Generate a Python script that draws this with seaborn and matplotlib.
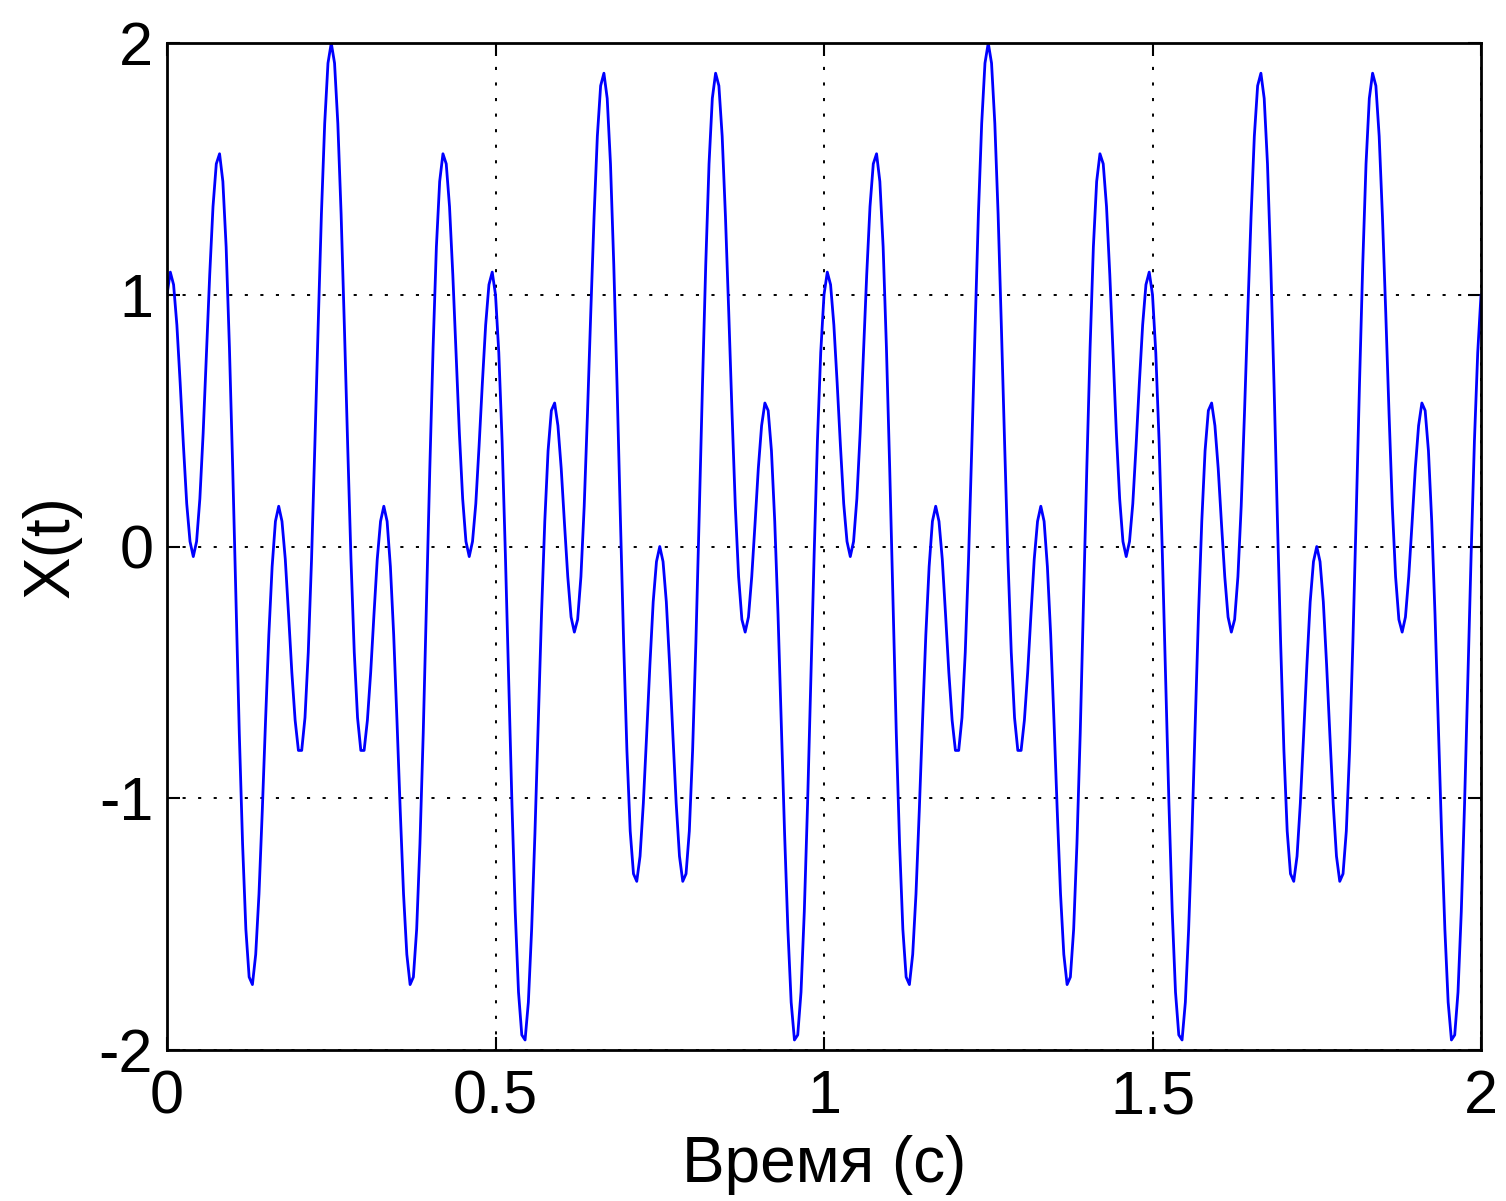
import numpy as np
import seaborn as sns
import matplotlib.pyplot as plt

# signal X(t), every 5 ms from 0 to 2 s
t_start, t_stop = 0.0, 2.0
x_t = [
    1.00, 1.09, 1.04, 0.88, 0.65, 0.40, 0.17, 0.02, -0.04, 0.02,
    0.19, 0.45, 0.76, 1.08, 1.35, 1.52, 1.56, 1.45, 1.19, 0.79,
    0.31, -0.22, -0.74, -1.18, -1.52, -1.71, -1.74, -1.62, -1.38, -1.05,
    -0.69, -0.35, -0.08, 0.10, 0.16, 0.10, -0.05, -0.27, -0.50, -0.69,
    -0.81, -0.81, -0.68, -0.42, -0.05, 0.40, 0.87, 1.32, 1.68, 1.92,
    2.00, 1.92, 1.68, 1.32, 0.87, 0.40, -0.05, -0.42, -0.68, -0.81,
    -0.81, -0.69, -0.50, -0.27, -0.05, 0.10, 0.16, 0.10, -0.08, -0.35,
    -0.69, -1.05, -1.38, -1.62, -1.74, -1.71, -1.52, -1.18, -0.74, -0.22,
    0.31, 0.79, 1.19, 1.45, 1.56, 1.52, 1.35, 1.08, 0.76, 0.45,
    0.19, 0.02, -0.04, 0.02, 0.17, 0.40, 0.65, 0.88, 1.04, 1.09,
    1.00, 0.77, 0.42, -0.03, -0.53, -1.02, -1.45, -1.77, -1.94, -1.96,
    -1.81, -1.52, -1.14, -0.70, -0.27, 0.10, 0.38, 0.54, 0.57, 0.48,
    0.31, 0.09, -0.12, -0.28, -0.34, -0.29, -0.12, 0.16, 0.53, 0.93,
    1.31, 1.63, 1.83, 1.88, 1.78, 1.52, 1.12, 0.64, 0.12, -0.38,
    -0.81, -1.13, -1.30, -1.33, -1.23, -1.02, -0.75, -0.47, -0.22, -0.06,
    0.00, -0.06, -0.22, -0.47, -0.75, -1.02, -1.23, -1.33, -1.30, -1.13,
    -0.81, -0.38, 0.12, 0.64, 1.12, 1.52, 1.78, 1.88, 1.83, 1.63,
    1.31, 0.93, 0.53, 0.16, -0.12, -0.29, -0.34, -0.28, -0.12, 0.09,
    0.31, 0.48, 0.57, 0.54, 0.38, 0.10, -0.27, -0.70, -1.14, -1.52,
    -1.81, -1.96, -1.94, -1.77, -1.45, -1.02, -0.53, -0.03, 0.42, 0.77,
    # second second
    1.00, 1.09, 1.04, 0.88, 0.65, 0.40, 0.17, 0.02, -0.04, 0.02,
    0.19, 0.45, 0.76, 1.08, 1.35, 1.52, 1.56, 1.45, 1.19, 0.79,
    0.31, -0.22, -0.74, -1.18, -1.52, -1.71, -1.74, -1.62, -1.38, -1.05,
    -0.69, -0.35, -0.08, 0.10, 0.16, 0.10, -0.05, -0.27, -0.50, -0.69,
    -0.81, -0.81, -0.68, -0.42, -0.05, 0.40, 0.87, 1.32, 1.68, 1.92,
    2.00, 1.92, 1.68, 1.32, 0.87, 0.40, -0.05, -0.42, -0.68, -0.81,
    -0.81, -0.69, -0.50, -0.27, -0.05, 0.10, 0.16, 0.10, -0.08, -0.35,
    -0.69, -1.05, -1.38, -1.62, -1.74, -1.71, -1.52, -1.18, -0.74, -0.22,
    0.31, 0.79, 1.19, 1.45, 1.56, 1.52, 1.35, 1.08, 0.76, 0.45,
    0.19, 0.02, -0.04, 0.02, 0.17, 0.40, 0.65, 0.88, 1.04, 1.09,
    1.00, 0.77, 0.42, -0.03, -0.53, -1.02, -1.45, -1.77, -1.94, -1.96,
    -1.81, -1.52, -1.14, -0.70, -0.27, 0.10, 0.38, 0.54, 0.57, 0.48,
    0.31, 0.09, -0.12, -0.28, -0.34, -0.29, -0.12, 0.16, 0.53, 0.93,
    1.31, 1.63, 1.83, 1.88, 1.78, 1.52, 1.12, 0.64, 0.12, -0.38,
    -0.81, -1.13, -1.30, -1.33, -1.23, -1.02, -0.75, -0.47, -0.22, -0.06,
    0.00, -0.06, -0.22, -0.47, -0.75, -1.02, -1.23, -1.33, -1.30, -1.13,
    -0.81, -0.38, 0.12, 0.64, 1.12, 1.52, 1.78, 1.88, 1.83, 1.63,
    1.31, 0.93, 0.53, 0.16, -0.12, -0.29, -0.34, -0.28, -0.12, 0.09,
    0.31, 0.48, 0.57, 0.54, 0.38, 0.10, -0.27, -0.70, -1.14, -1.52,
    -1.81, -1.96, -1.94, -1.77, -1.45, -1.02, -0.53, -0.03, 0.42, 0.77,
    1.00,
]
time = np.linspace(t_start, t_stop, len(x_t))

xticks = [0, 0.5, 1, 1.5, 2]
xtick_labels = ['0', '0.5', '1', '1.5', '2']
yticks = [-2, -1, 0, 1, 2]
ytick_labels = ['-2', '-1', '0', '1', '2']

sns.set_theme(style="ticks")
plt.rcParams['font.family'] = ['Liberation Sans', 'DejaVu Sans']

fig = plt.figure(figsize=(15.06, 12.01), dpi=100)
ax = fig.add_axes([0.1109, 0.1257, 0.8725, 0.8385])

sns.lineplot(x=time, y=x_t, color='#0000FF', lw=2.0, ax=ax)

ax.set_xlim(0, 2)
ax.set_ylim(-2, 2)
ax.set_xticks(xticks)
ax.set_xticklabels(xtick_labels)
ax.set_yticks(yticks)
ax.set_yticklabels(ytick_labels)

# matlab-like dotted grid, ticks inside on all four sides
ax.grid(True, color='black', lw=1.4, linestyle=(0, (1.6, 6.4)))
ax.tick_params(direction='in', length=9.5, width=1.5, top=True, right=True,
               labelsize=44, colors='black')
ax.tick_params(axis='x', pad=14)
ax.tick_params(axis='y', pad=10)
for s in ax.spines.values():
    s.set_visible(True)
    s.set_color('black')
    s.set_linewidth(2)

ax.set_xlabel('Время (с)', fontsize=46, color='black', labelpad=6)
ax.set_ylabel('X(t)', fontsize=46, color='black', labelpad=12)

fig.savefig('out.png', dpi=100)
